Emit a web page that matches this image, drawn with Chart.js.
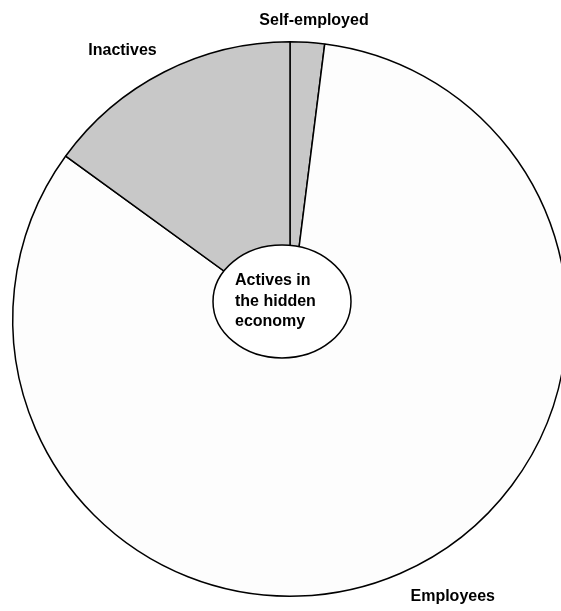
<!DOCTYPE html>
<html>
<head>
<meta charset="utf-8">
<script src="https://cdn.jsdelivr.net/npm/chart.js@4"></script>
<style>
	html, body { margin: 0; padding: 0; background: #fff; overflow: hidden; }
	#wrap { width: 580px; height: 611px; }
</style>
</head>
<body>
<div id="wrap"><canvas id="pie" width="580" height="611"></canvas></div>
<script>
// slices, clockwise from 12 o'clock
const categories = ['Self-employed', 'Employees', 'Inactives'];
const shares = [2, 83, 15];
const sliceColors = ['#c8c8c8', '#fdfdfd', '#c8c8c8'];
const centerLines = ['Actives in', 'the hidden', 'economy'];

const FONT = 'bold 16px "Liberation Sans", Arial, sans-serif';

// where each outside label goes: angle shift (deg) from slice middle, distance as share of radius
const labelPlace = [
	{shift: 1, dist: 1.08},
	{shift: -7, dist: 1.16},
	{shift: -5, dist: 1.14}
];

const sliceLabels = {
	id: 'sliceLabels',
	afterDatasetsDraw(chart) {
		const ctx = chart.ctx;
		const arcs = chart.getDatasetMeta(0).data;
		ctx.save();
		ctx.font = FONT;
		ctx.fillStyle = '#000';
		ctx.textAlign = 'center';
		ctx.textBaseline = 'middle';
		arcs.forEach((arc, i) => {
			const {x, y, startAngle, endAngle, outerRadius} = arc.getProps(['x', 'y', 'startAngle', 'endAngle', 'outerRadius'], true);
			const a = (startAngle + endAngle) / 2 + labelPlace[i].shift * Math.PI / 180;
			const r = outerRadius * labelPlace[i].dist;
			ctx.fillText(categories[i], x + r * Math.cos(a), y + r * Math.sin(a));
		});

		// bubble in the middle
		const {x, y} = arcs[0].getProps(['x', 'y'], true);
		const ex = x - 8, ey = y - 17.5;
		ctx.beginPath();
		ctx.ellipse(ex, ey, 69, 56.5, 0, 0, Math.PI * 2);
		ctx.fillStyle = '#fff';
		ctx.fill();
		ctx.lineWidth = 1.5;
		ctx.strokeStyle = '#000';
		ctx.stroke();
		ctx.fillStyle = '#000';
		ctx.textAlign = 'left';
		centerLines.forEach((line, i) => {
			ctx.fillText(line, ex - 47, ey + (i - 1) * 20.5);
		});
		ctx.restore();
	}
};

new Chart(document.getElementById('pie'), {
	type: 'pie',
	data: {
		labels: categories,
		datasets: [{
			data: shares,
			backgroundColor: sliceColors,
			borderColor: '#000',
			borderWidth: 1.5
		}]
	},
	options: {
		responsive: false,
		animation: false,
		devicePixelRatio: 1,
		layout: {
			padding: {left: 12, right: 12, top: 41, bottom: 14}
		},
		plugins: {
			legend: {display: false},
			tooltip: {enabled: false}
		}
	},
	plugins: [sliceLabels]
});
</script>
</body>
</html>
